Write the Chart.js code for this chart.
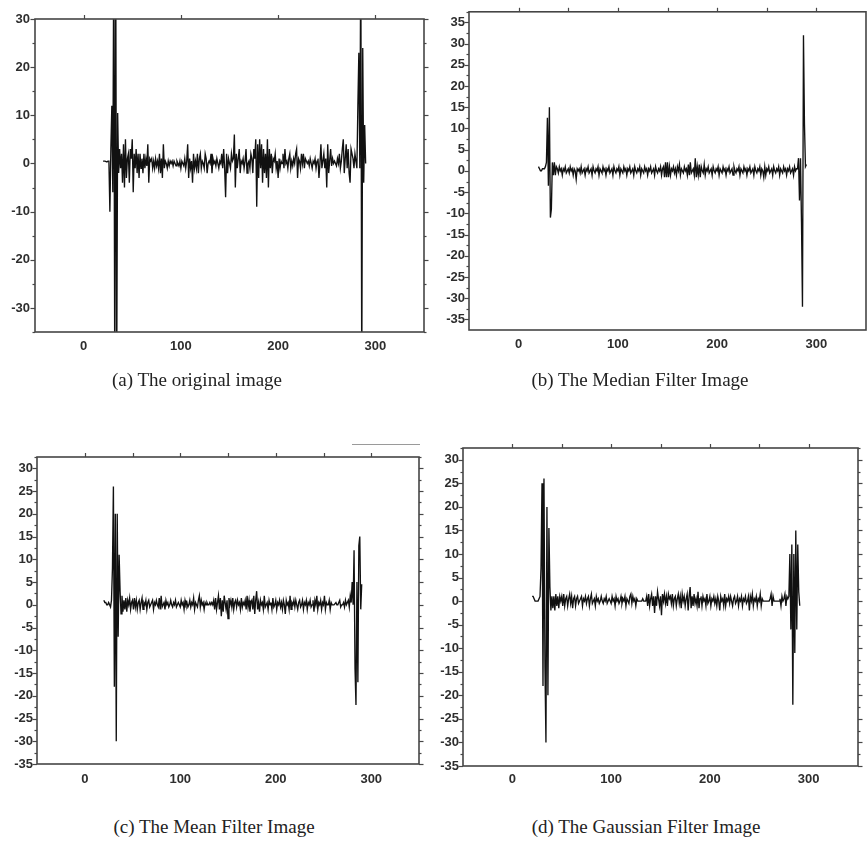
<!DOCTYPE html>
<html>
<head>
<meta charset="utf-8">
<script src="https://cdn.jsdelivr.net/npm/chart.js@4.4.1/dist/chart.umd.min.js"></script>
<style>
  html, body { margin: 0; padding: 0; background: #fff; }
  #page { position: relative; width: 868px; height: 845px; overflow: hidden; background: #fff; }
  canvas { position: absolute; }
  .cap { position: absolute; font-family: "Liberation Serif", "Times New Roman", serif; font-size: 19px; color: #222; white-space: nowrap; transform: translate(-50%, -50%); }
  #artifact { position: absolute; left: 352px; top: 444px; width: 68px; height: 0; border-top: 1px solid #9a9a9a; }
</style>
</head>
<body>
<div id="page">
  <canvas id="ca" width="434" height="370" style="left:0px;top:0px"></canvas>
  <canvas id="cb" width="434" height="370" style="left:434px;top:0px"></canvas>
  <canvas id="cc" width="434" height="370" style="left:0px;top:430px"></canvas>
  <canvas id="cd" width="444" height="370" style="left:424px;top:420px"></canvas>
  <div id="artifact"></div>
  <div class="cap" style="left:197px;top:380px">(a) The original image</div>
  <div class="cap" style="left:640px;top:380px">(b) The Median Filter Image</div>
  <div class="cap" style="left:214px;top:827px">(c) The Mean Filter Image</div>
  <div class="cap" style="left:646px;top:827px">(d) The Gaussian Filter Image</div>
</div>
<script>
// ---- Data (one sample per pixel column index, starting at column 20) ----
const sampleStart = 20;

const xTickLabels = [0, 100, 200, 300];
const yTicksA = [-30, -20, -10, 0, 10, 20, 30];
const yTicksB = [-35, -30, -25, -20, -15, -10, -5, 0, 5, 10, 15, 20, 25, 30, 35];
const yTicksCD = [-35, -30, -25, -20, -15, -10, -5, 0, 5, 10, 15, 20, 25, 30];

const captions = ["(a) The original image", "(b) The Median Filter Image", "(c) The Mean Filter Image", "(d) The Gaussian Filter Image"];

const originalSeries = [
  0.5, 0.5, 0.5, 0.5, 0.3, 0.5, 0.5, -10, 3, 12,
  -6, 45, -45, 45, -45, 10.5, -2, 3, -1, 2,
  -4, 4, -5, 5, -3, 1, 2, -4, 3, 1,
  5, -6, 2, -1, 3, -2, 2, -3, 2, -1,
  1, -2, 2, -1, 1, -0.5, 4, -4, 1, 0.5,
  1, -1, 0.5, -1, 1, -0.5, 0.5, -1, 2, -2,
  1, -3, 4, -1, 0.5, 0, -1, 0.5, -0.5, 0.5,
  0, 0.5, -0.5, 0.5, 0, -0.5, 0.5, 0, -0.5, 0.5,
  -1, 0.5, 0, -0.5, 1, -1, 0.5, 4, -3, 1,
  -1, 0.5, -4, 2, -1, 0.5, -1, 2, -2, 1,
  2, -1, 0.5, 0, -1, 2, 1, -2, 0, 0.5,
  0, 2, -2, 1, 0, 0.5, -0.5, 1, 0, -1,
  0.5, 0, 2, -1, 3, -1, -7, 2, -2, 1,
  0, -1, 2, 0.5, 1, 6, -5, 2, -1, 1,
  3, -2, 0.5, 0, 1, -1, 0.5, 3, -2, 0,
  0.5, -1, 2, 1, -2, 3, 1, 5, -9, 4,
  -3, 5, -1, 4, -4, 3, -2, 2, -3, 5,
  -5, 3, -1, 2, -2, 1, 0.5, 2, -1, 0.5,
  -3, 1, -1, 0.5, 0, 2, -1, 3, 0, 0.5,
  -1, 1, 2, -1, 0.5, -0.5, 1, 0, 2, 3,
  -3, 1, 0.5, -1, 2, 0, 2, -1, 1, 0.5,
  0, 0.5, -0.5, 1, 0, -1, 0.5, 0, 1, -1,
  0.5, 1, -3, 0, 4, -1, 0.5, 2, -1, 1,
  -5, 4, -2, 0.5, 3, -0.5, 1, 0, 0.5, 0,
  -0.5, 1, 0, 2, -1, 0.5, 3, 5, -2, 1,
  4, -1, 3, -2, -4, 3, 2, 1, -1, 2,
  0.5, -1, 12, 23, -1, 45, -45, 24, -4, 8,
  0
];

const medianSeries = [
  1, 0.5, 0, 0, 0.5, 0.5, 0.5, 1, 2, 12.5,
  -3.5, 15, -11, -9, 2, -1, 2, -1, 1, 0.5,
  -0.5, 1, 0, 0.5, -1, 0.5, 0, 1, -0.5, 0,
  0.5, -0.5, 1, 0, 0.5, -1, 0.5, 0, -2, 0.5,
  0, 0.5, -0.5, 1, -0.5, 0, 0.5, -1, 0.5, 0,
  1, -0.5, 0, 0.5, -1, 1, 0, -0.5, 0.5, 0,
  1, -1, 0.5, 0, -0.5, 1, 0, 0.5, -1, 0.5,
  0, 1, -0.5, 0, 0.5, -1, 1, 0, -0.5, 0.5,
  0, 1, -1, 0.5, 0, -0.5, 1, 0, 0.5, -1,
  0.5, 0, 1, -0.5, 0, 0.5, -1, 1, 0, -0.5,
  0.5, 0, 1, -1, 0.5, 0, -0.5, 1, 0, 0.5,
  -1, 0.5, 0, 1, -0.5, 0, 0.5, -1, 1, 0,
  -0.5, 0.5, 0, 1, -1, 0.5, 1, -1.5, 2, -1.5,
  2, -1.5, 1, -1, 0.5, 0, 1, -0.5, 0.5, -1,
  1, 0, 1.5, -1, 0.5, 0, -0.5, 1, 0, 0.5,
  -1, 1.5, -1, 2, -0.5, 0, 0.5, -1, 3, -1.5,
  1, -1, 1.5, -1.5, 1, 0, -0.5, 1.5, -1, 0.5,
  0, 1, -0.5, 0, 0.5, -1, 1, 0, -0.5, 0.5,
  0, 1, -1, 0.5, 0, -0.5, 1, 0, 0.5, -1,
  0.5, 0, 1, -0.5, 0, 0.5, -1, 1, 0, -0.5,
  0.5, 0, 1, -1, 0.5, 0, -0.5, 1, 0, 0.5,
  -1, 0.5, 0, 1, -0.5, 0, 0.5, -1, 1, 0,
  -0.5, 0.5, 0, 1, -1, 0.5, 0, -1.5, 1, -1,
  0.5, 0, 1, -0.5, 0, 0.5, -1, 1, 0, -0.5,
  0.5, 0, 1, -1, 0.5, 0, -0.5, 1, 0, 0.5,
  -1, 0.5, 0, 1, -0.5, 0, 0.5, -1, 1, 0,
  0.5, 0.5, 3, -7, 3, -12, -32, 32, 11, 1,
  1.5
];

const meanSeries = [
  1, 0.5, 0.5, 0, 0, 0.5, 0, -0.5, 1, 8,
  26, -18, 20, -30, 20, -7, 11, 3, -2, 2,
  -1.5, 1, -1, 1.5, -1.5, 1, 0, 1.5, -1, 0.5,
  1, -1, 1.5, -0.5, 1, -1, 0.5, 1, -1, 0.5,
  1.5, -1, 0.5, 0, 1, -1, 0.5, 1, -0.5, 0,
  0.5, 1, -1, 0.5, 0, 1, 0, -0.5, 1.5, -1,
  2, -0.5, 0, 0.5, -1, 1, 0, 0.5, -0.5, 0,
  1, 0, -0.5, 0.5, 0, 1, -0.5, 0, 0.5, 0,
  -0.5, 1, 0, 0.5, -1, 1, 0, 0.5, -0.5, 0,
  1, -0.5, 0.5, 0, 1.5, -1, 0.5, 0, -0.5, 1,
  2, -0.5, 1, 0, 0.5, -1, 0.5, 0, 0.5, 0,
  0, 0.5, 0, 0.5, 0, 1, -1, 1.5, -1, 0.5,
  2, -1, 1.5, -2.5, 1, -1.5, 2, 0.5, -1, 1,
  -3, 1.5, 0, 1, -0.5, 1.5, -1, 0.5, 1, -0.5,
  1, 0, 0.5, -1, 1.5, -0.5, 0.5, 0, 1, -1,
  2, -0.5, 1, -1.5, 0.5, 1, -1, 2, -2, 1,
  3, -1, 0.5, -1.5, 1, 0, 0.5, -1, 2, -0.5,
  0, 0.5, -1, 1, 0, 0.5, -1, 1.5, -0.5, 0,
  1, -1, 0.5, 0, 1, -0.5, 0.5, -1, 1, 0,
  -2, 1, 0, 0.5, -1, 2, -1, 0.5, 0, 1,
  -0.5, 1, 0, -1, 0.5, 1, -0.5, 0, 1, -1,
  0.5, 0, 1, -1, 0.5, 0, 1, -0.5, 0, 1,
  -1.5, 1, 0, 2, -1, 0.5, 0, 1, -1, 0.5,
  0, 2, -1, 0.5, 0, 0, 1, -1, 0.5, 0,
  0, 0, 0, 0.5, 0, 0, 0.5, 1, -0.5, 0,
  0, 0.5, -0.5, 1, 0, 0.5, 1, -0.5, 2, 0.5,
  5, 0, 12, -14, -22, 5, -17, 13, 15, -1,
  4.5
];

const gaussianSeries = [
  1, 1, 0.5, 0, 0, 0, 0, 0.5, 1, 7,
  25, -18, 26, -14, -30, 20, -20, 15.5, 3, -2,
  1, -1.5, 1, -2, 1.5, -1, 1, -1.5, 1, 0,
  1, -1, 1.5, -1, 0.5, 1, -1, 0.5, 1.5, -0.5,
  1, -1.5, 0.5, 1, -1, 0.5, 1, -0.5, 0, 0.5,
  1, -1, 0.5, 0, 1, -0.5, 0.5, 1, -1, 0.5,
  1.5, -0.5, 0, 0.5, -1, 1, 0, 0.5, -0.5, 0,
  1, 0, -0.5, 0.5, 0, 1, -0.5, 0, 0.5, 0,
  -0.5, 1, 0, 0.5, -1, 1, 0, 0.5, -0.5, 0,
  1, -0.5, 0.5, 0, 1, -1, 0.5, 0, -0.5, 1,
  1.5, -0.5, 1, 0, 0.5, -1, 0.5, 0, 0, 0,
  0, 0, 0.5, 0, 0, 0, 1, -1, 1.5, -1,
  0.5, 1.5, -1, 1, -2.5, 1, -1, 2, 0.5, -1,
  1, -3, 1.5, 0, 1.5, -0.5, 1, -1, 1.5, 0.5,
  1, -0.5, 1.5, -1, 0.5, 1, -1, 0.5, 1.5, -0.5,
  1, -1.5, 1.5, 0, 1, -1, 0.5, 1.5, -2, 1,
  3, -1.5, 1, -1, 1.5, -0.5, 0.5, -1, 2, -1.5,
  0.5, 1, -1, 1, 0, 0.5, -1, 1.5, -0.5, 0,
  1, -1, 0.5, 0, 1, -0.5, 0.5, -1, 1, 0,
  -2, 1, 0, 0.5, -1, 1.5, -1, 0.5, 0, 1,
  -0.5, 1, 0, -1, 0.5, 1, -0.5, 0, 1, -1,
  0.5, 0, 1, -1, 0.5, 0, 1, -0.5, 0, 1,
  -2, 1, 0, 1.5, -1, 0.5, 0, 1, -1, 0.5,
  0, 1.5, -1, 0.5, 0, 0, 0, 0, 0, 0,
  0, 0.5, 1.5, -1, 1, 0, 0, 0, 0, 0,
  0, 0.5, -1, 1, 0, 0.5, 1.5, -1, 1, 0.5,
  1, 10, -6, 12, -22, 10, -11, 15, -6, 12,
  2, -1
];

// ---- helpers ----
function toPoints(values) {
  return values.map((v, i) => ({ x: sampleStart + i, y: v }));
}

const frameTicks = {
  id: 'frameTicks',
  afterDraw(chart, args, o) {
    const { ctx, chartArea: a, scales } = chart;
    const x = scales.x, y = scales.y;
    ctx.save();
    ctx.strokeStyle = '#474747';
    const seg = (x1, y1, x2, y2) => { ctx.beginPath(); ctx.moveTo(x1, y1); ctx.lineTo(x2, y2); ctx.stroke(); };
    ctx.lineWidth = 1.2;
    for (let k = 0; ; k++) {
      const v = o.yFrom + k * o.yMinor;
      if (v > y.max + 1e-9) break;
      const py = Math.round(y.getPixelForValue(v)) + 0.5;
      const r = v / o.yMajor;
      const major = Math.abs(r - Math.round(r)) < 1e-6;
      const len = major ? 4.5 : 2.5;
      seg(a.left - len, py, a.left, py);
      if (o.right) seg(a.right, py, a.right + len, py);
    }
    for (let k = 0; ; k++) {
      const v = o.topFrom + k * o.topStep;
      if (v > o.topTo + 1e-9) break;
      const px = Math.round(x.getPixelForValue(v)) + 0.5;
      seg(px, a.top - 4, px, a.top);
    }
    ctx.lineWidth = 1.6;
    ctx.strokeStyle = '#454545';
    ctx.strokeRect(a.left, a.top, a.right - a.left, a.bottom - a.top);
    ctx.restore();
  }
};

const tickFont = { family: '"Liberation Sans", Arial, sans-serif', size: 13, weight: 'bold' };
const tickColor = '#2e2e2e';

function makeChart(id, series, opt) {
  const ctx = document.getElementById(id).getContext('2d');
  return new Chart(ctx, {
    type: 'line',
    data: {
      datasets: [{
        data: toPoints(series),
        borderColor: '#111',
        borderWidth: 1.35,
        pointRadius: 0,
        tension: 0,
        fill: false
      }]
    },
    options: {
      responsive: false,
      animation: false,
      devicePixelRatio: 1,
      events: [],
      layout: { padding: { top: opt.padTop, right: opt.padRight, left: 0, bottom: 0 } },
      plugins: {
        legend: { display: false },
        tooltip: { enabled: false },
        frameTicks: opt.frame
      },
      scales: {
        x: {
          type: 'linear',
          min: -50, max: 350,
          grid: { display: false, drawTicks: false },
          border: { display: false },
          afterBuildTicks: s => { s.ticks = xTickLabels.map(v => ({ value: v })); },
          afterFit: s => { s.height = opt.xHeight; },
          ticks: { font: tickFont, color: tickColor, padding: opt.xPad, maxRotation: 0, autoSkip: false }
        },
        y: {
          type: 'linear',
          min: opt.yMin, max: opt.yMax,
          grid: { display: false, drawTicks: false },
          border: { display: false },
          afterBuildTicks: s => { s.ticks = opt.yTicks.map(v => ({ value: v })); },
          afterFit: s => { s.width = opt.yWidth; },
          ticks: { font: tickFont, color: tickColor, padding: opt.yPad, autoSkip: false }
        }
      }
    },
    plugins: [frameTicks]
  });
}

makeChart('ca', originalSeries, {
  yMin: -35, yMax: 30, yTicks: yTicksA,
  padTop: 19, padRight: 10, xHeight: 38, yWidth: 35, xPad: 7, yPad: 5,
  frame: { yFrom: -35, yMinor: 5, yMajor: 10, right: true, topFrom: 0, topStep: 100, topTo: 300 }
});
makeChart('cb', medianSeries, {
  yMin: -37.5, yMax: 37.5, yTicks: yTicksB,
  padTop: 11, padRight: 2, xHeight: 40, yWidth: 35, xPad: 7, yPad: 4,
  frame: { yFrom: -35, yMinor: 2.5, yMajor: 5, right: false, topFrom: 0, topStep: 50, topTo: 300 }
});
makeChart('cc', meanSeries, {
  yMin: -35, yMax: 32.5, yTicks: yTicksCD,
  padTop: 27, padRight: 15, xHeight: 36, yWidth: 37, xPad: 8, yPad: 4,
  frame: { yFrom: -35, yMinor: 2.5, yMajor: 5, right: true, topFrom: 0, topStep: 50, topTo: 300 }
});
makeChart('cd', gaussianSeries, {
  yMin: -35, yMax: 32.5, yTicks: yTicksCD,
  padTop: 28, padRight: 10, xHeight: 24, yWidth: 39, xPad: 6, yPad: 4,
  frame: { yFrom: -35, yMinor: 2.5, yMajor: 5, right: true, topFrom: 0, topStep: 50, topTo: 300 }
});
</script>
</body>
</html>
